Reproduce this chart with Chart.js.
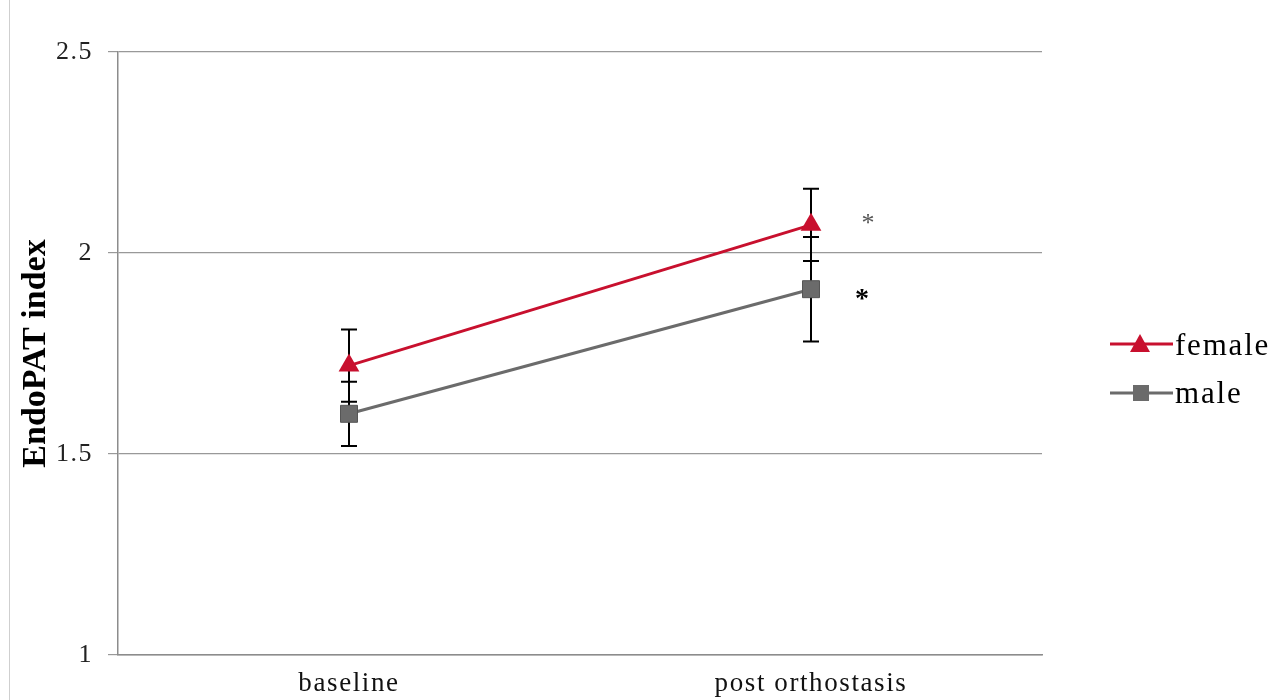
<!DOCTYPE html>
<html>
<head>
<meta charset="utf-8">
<script src="https://cdn.jsdelivr.net/npm/chart.js@4/dist/chart.umd.min.js"></script>
<style>
  html, body { margin: 0; padding: 0; background: #ffffff; }
  #wrap { position: relative; width: 1278px; height: 700px; }
</style>
</head>
<body>
<div id="wrap"><canvas id="c" width="1278" height="700"></canvas></div>
<script>
// EndoPAT index by phase, mean ± error
const categories = ['baseline', 'post orthostasis'];
const seriesNames = ['female', 'male'];
const femaleValues = [1.72, 2.07];
const femaleErrors = [0.09, 0.09];
const maleValues = [1.60, 1.91];
const maleErrors = [0.08, 0.13];
const significance = ['', '*'];   // marker drawn beside each series at each phase
const yTicks = [1, 1.5, 2, 2.5];

const SERIF = '"Liberation Serif", "DejaVu Serif", serif';
const FEMALE_COLOR = '#c8102e';
const MALE_COLOR = '#6b6b6b';

// widen the tick label lettering of a scale
function spaceLabels(scale, spacing) {
  if (scale._spaced) return;
  const orig = scale.drawLabels.bind(scale);
  scale.drawLabels = function (area) {
    const ctx = this.ctx;
    ctx.save();
    ctx.letterSpacing = spacing;
    orig(area);
    ctx.restore();
  };
  scale._spaced = true;
}

function spacedText(ctx, text, x, y, spacing) {
  ctx.save();
  ctx.letterSpacing = spacing;
  ctx.fillText(text, x, y);
  ctx.restore();
}

const decorations = {
  id: 'decorations',
  afterLayout(chart) {
    spaceLabels(chart.scales.x, '1.6px');
    spaceLabels(chart.scales.y, '1.5px');
  },
  beforeDatasetsDraw(chart) {
    // error bars, drawn beneath the markers
    const { ctx } = chart;
    const x = chart.scales.x, y = chart.scales.y;
    const errs = [femaleErrors, maleErrors];
    ctx.save();
    ctx.strokeStyle = '#000';
    ctx.lineWidth = 2;
    chart.data.datasets.forEach((ds, i) => {
      ds.data.forEach((v, j) => {
        const px = x.getPixelForValue(j);
        const top = y.getPixelForValue(v + errs[i][j]);
        const bot = y.getPixelForValue(v - errs[i][j]);
        ctx.beginPath();
        ctx.moveTo(px, top); ctx.lineTo(px, bot);
        ctx.moveTo(px - 8, top); ctx.lineTo(px + 8, top);
        ctx.moveTo(px - 8, bot); ctx.lineTo(px + 8, bot);
        ctx.stroke();
      });
    });
    ctx.restore();
  },
  afterDraw(chart) {
    const { ctx } = chart;
    const x = chart.scales.x, y = chart.scales.y;
    ctx.save();
    // outer frame edge
    ctx.strokeStyle = '#cfcfcf';
    ctx.lineWidth = 1;
    ctx.beginPath(); ctx.moveTo(9.5, 0); ctx.lineTo(9.5, 700); ctx.stroke();

    // significance asterisks
    ctx.textAlign = 'center';
    ctx.textBaseline = 'alphabetic';
    significance.forEach((s, j) => {
      if (!s) return;
      const px = x.getPixelForValue(j);
      ctx.font = '26px ' + SERIF;
      ctx.fillStyle = '#555';
      ctx.fillText(s, px + 57, y.getPixelForValue(femaleValues[j]) + 6);
      ctx.font = 'bold 28px ' + SERIF;
      ctx.fillStyle = '#000';
      ctx.fillText(s, px + 51, y.getPixelForValue(maleValues[j]) + 18);
    });

    // y axis title
    ctx.translate(36, (chart.chartArea.top + chart.chartArea.bottom) / 2);
    ctx.rotate(-Math.PI / 2);
    ctx.font = 'bold 34px ' + SERIF;
    ctx.fillStyle = '#000';
    ctx.textAlign = 'center';
    ctx.textBaseline = 'middle';
    ctx.fillText('EndoPAT index', 0, 0);
    ctx.restore();

    // legend: line sample with marker, then name
    ctx.save();
    const items = [
      { name: seriesNames[0], color: FEMALE_COLOR, style: 'triangle', y: 344, base: 355 },
      { name: seriesNames[1], color: MALE_COLOR, style: 'rect', y: 393, base: 403 }
    ];
    items.forEach(it => {
      ctx.strokeStyle = it.color;
      ctx.lineWidth = 3;
      ctx.beginPath(); ctx.moveTo(1110, it.y); ctx.lineTo(1173, it.y); ctx.stroke();
      ctx.fillStyle = it.color;
      ctx.beginPath();
      if (it.style === 'triangle') {
        ctx.moveTo(1140, it.y - 10); ctx.lineTo(1150, it.y + 8); ctx.lineTo(1130, it.y + 8);
        ctx.closePath();
      } else {
        ctx.rect(1133, it.y - 8, 16, 16);
      }
      ctx.fill();
      ctx.font = '31px ' + SERIF;
      ctx.fillStyle = '#000';
      ctx.textAlign = 'left';
      ctx.textBaseline = 'alphabetic';
      spacedText(ctx, it.name, 1175, it.base, '1.8px');
    });
    ctx.restore();
  }
};

new Chart(document.getElementById('c'), {
  type: 'line',
  data: {
    labels: categories,
    datasets: [
      {
        label: seriesNames[0],
        data: femaleValues,
        borderColor: FEMALE_COLOR,
        backgroundColor: FEMALE_COLOR,
        borderWidth: 3,
        pointStyle: 'triangle',
        pointRadius: 12,
        pointBorderWidth: 0,
        tension: 0
      },
      {
        label: seriesNames[1],
        data: maleValues,
        borderColor: MALE_COLOR,
        backgroundColor: MALE_COLOR,
        borderWidth: 3,
        pointStyle: 'rect',
        pointRadius: 12,
        pointBorderWidth: 1,
        pointBorderColor: '#555',
        tension: 0
      }
    ]
  },
  options: {
    responsive: false,
    animation: false,
    layout: { padding: { top: 52, right: 236, bottom: 0, left: 0 } },
    plugins: {
      legend: { display: false },
      tooltip: { enabled: false }
    },
    scales: {
      x: {
        offset: true,
        grid: { display: false, drawTicks: false },
        border: { display: true, color: '#8c8c8c', width: 1.5 },
        ticks: {
          color: '#111',
          font: { family: SERIF, size: 27 },
          padding: 13,
          maxRotation: 0
        },
        afterFit(scale) { scale.height = 45; }
      },
      y: {
        min: 1,
        max: 2.5,
        afterBuildTicks(scale) { scale.ticks = yTicks.map(v => ({ value: v })); },
        grid: { color: '#999', lineWidth: 1.2, tickLength: 10 },
        border: { display: true, color: '#8c8c8c', width: 1.5 },
        ticks: {
          color: '#222',
          font: { family: SERIF, size: 26 },
          padding: 15,
          callback: v => String(v)
        },
        afterFit(scale) { scale.width = 118; }
      }
    }
  },
  plugins: [decorations]
});
</script>
</body>
</html>
